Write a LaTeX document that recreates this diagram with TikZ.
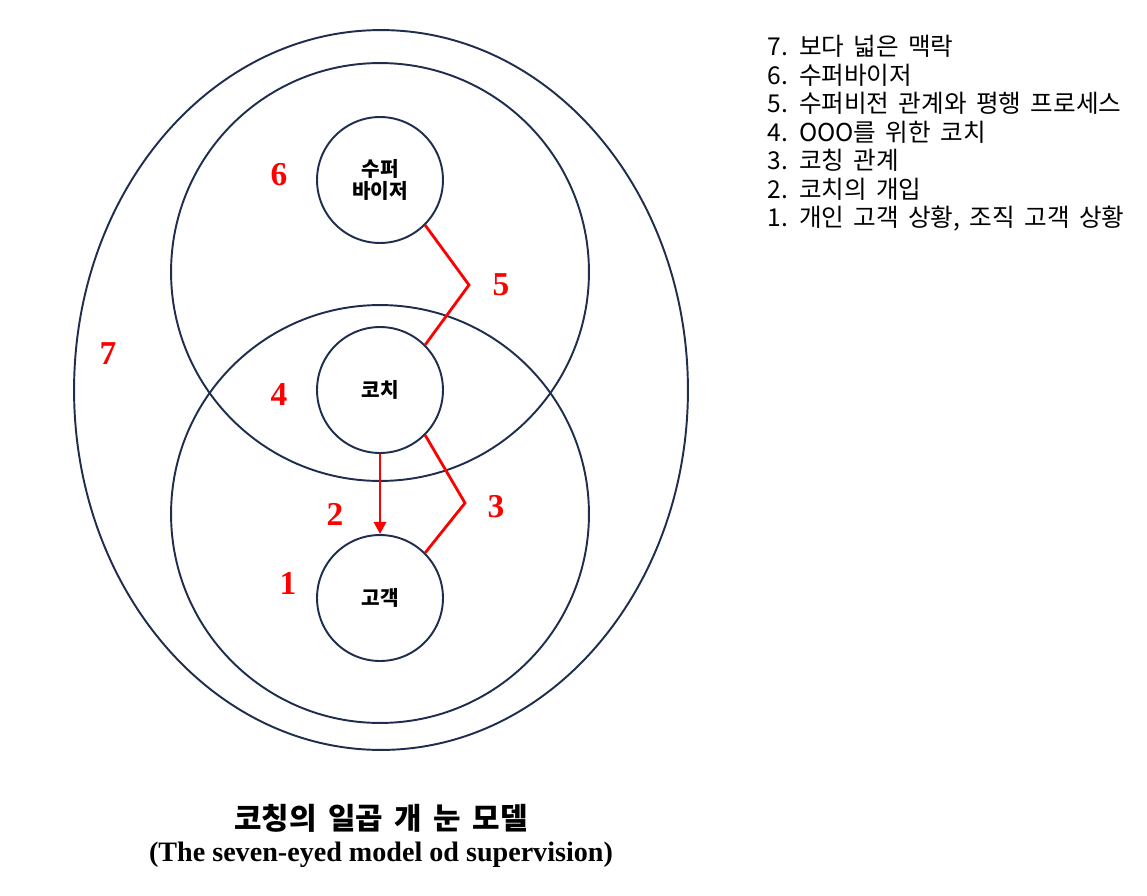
\documentclass[tikz,border=0pt]{standalone}
\usepackage{fontspec}
\setmainfont{Liberation Serif}
\newfontfamily\kr{Noto Sans CJK KR}
\newfontfamily\krwide[WordSpace=1.7]{Noto Sans CJK KR}
\usetikzlibrary{shapes.geometric}
\usetikzlibrary{arrows.meta}
\definecolor{navy}{RGB}{31,45,78}

\begin{document}
\begin{tikzpicture}[x=0.02cm, y=-0.02cm,
  ring/.style={draw=navy, line width=1.1pt, inner sep=0pt},
  eye/.style={ring, circle, minimum size=2.52cm, font=\kr\bfseries\fontsize{11.5}{13}\selectfont, align=center},
  num/.style={text=red, font=\bfseries\fontsize{19}{19}\selectfont},
  link/.style={draw=red, line width=1.6pt}]

\useasboundingbox (0,0) rectangle (1147,896);

% Wider context (7)
\node[ring, ellipse, minimum width=12.28cm, minimum height=14.4cm] (context) at (381,390) {};

% Supervision and coaching circles
\node[ring, circle, minimum size=8.36cm] (upper) at (380,272) {};
\node[ring, circle, minimum size=8.36cm] (lower) at (380,514) {};

% The three small circles
\node[eye, fill=white] (super) at (380,180) {수퍼\\바이저};
\node[eye] (coach) at (380,390) {코치};
\node[eye] (client) at (380,598) {고객};

% Relationship lines
\coordinate (k5) at (469,285);
\coordinate (k3) at (465,503);
\draw[link] (super.-45) -- (k5) -- (coach.45);
\draw[link] (coach.-45) -- (k3) -- (client.45);

% Intervention arrow
\draw[link, -{Triangle[length=7pt, width=7pt]}] (coach.south) -- (client.north);

% Numbers
\node[num] (n7) at (108,354) {7};
\node[num] (n6) at (279,175) {6};
\node[num] (n5) at (501,285) {5};
\node[num] (n4) at (279,395) {4};
\node[num] (n3) at (496,507) {3};
\node[num] (n2) at (335,514) {2};
\node[num] (n1) at (288,583) {1};

% Legend
\node[anchor=north west, align=left, inner sep=0pt, font=\krwide\fontsize{14}{16.2}\selectfont] (legend) at (767,35)
  {7. 보다 넓은 맥락\\6. 수퍼바이저\\5. 수퍼비전 관계와 평행 프로세스\\4. OOO를 위한 코치\\3. 코칭 관계\\2. 코치의 개입\\1. 개인 고객 상황, 조직 고객 상황};

% Title
\node[font=\krwide\bfseries\fontsize{17}{18}\selectfont] (title) at (381,818) {코칭의 일곱 개 눈 모델};
\node[font=\bfseries\fontsize{16}{18}\selectfont] (subtitle) at (381,855) {(The seven-eyed model od supervision)};

\end{tikzpicture}
\end{document}
